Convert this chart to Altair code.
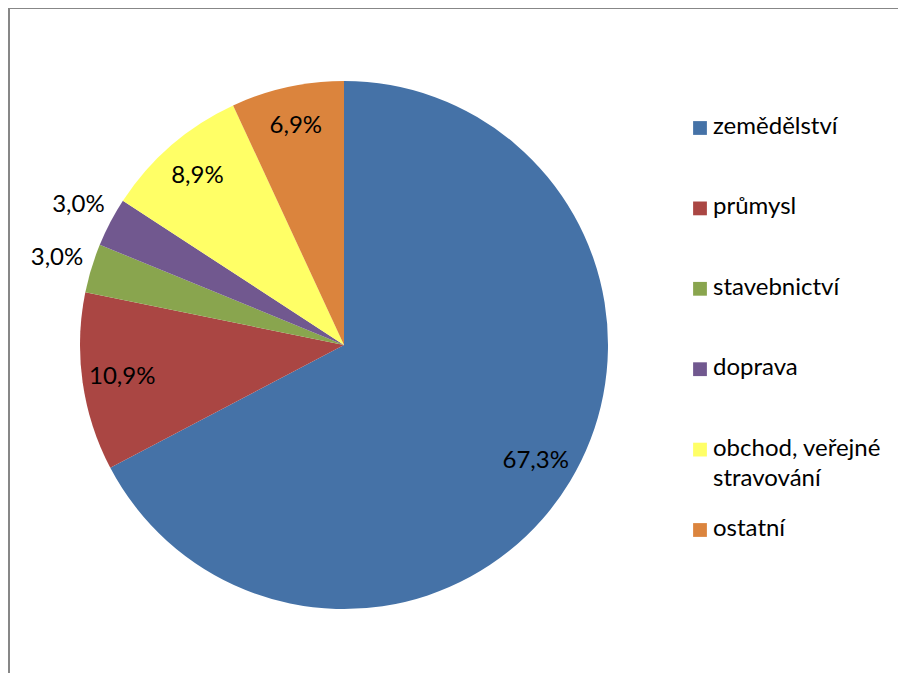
import altair as alt
import pandas as pd

categories = ["zemědělství", "průmysl", "stavebnictví", "doprava", "obchod, veřejné stravování", "ostatní"]
legend_lines = [["zemědělství"], ["průmysl"], ["stavebnictví"], ["doprava"], ["obchod, veřejné", "stravování"], ["ostatní"]]
shares = [67.3, 10.9, 3.0, 3.0, 8.9, 6.9]
colors = ["#4572A7", "#AA4643", "#89A54E", "#71588F", "#FFFF66", "#DB843D"]

df = pd.DataFrame({
    "kategorie": categories,
    "podil": shares,
    "poradi": list(range(len(categories))),
    "legenda": legend_lines,
})

W, H = 890, 665
CX, CY = 336, 337
FONT = "Lato"
FS = 24

theta_scale = alt.Scale(domain=[0, 100])
color_scale = alt.Scale(domain=categories, range=colors)

pie = alt.Chart(df).mark_arc(outerRadius=264).encode(
    theta=alt.Theta("podil:Q", stack=True, scale=theta_scale),
    order=alt.Order("poradi:Q"),
    x=alt.value(CX), y=alt.value(CY),
    color=alt.Color("kategorie:N", scale=color_scale, sort=categories, legend=None),
)

label_txt = "replace(format(datum.podil, '.1f'), '.', ',') + '%'"

labels = alt.Chart(df).transform_window(
    kum="sum(podil)", sort=[alt.SortField("poradi")]
).transform_calculate(
    stred="datum.kum - datum.podil / 2", txt=label_txt
)

inside = labels.transform_filter("datum.podil >= 5").mark_text(
    radius=224, font=FONT, fontSize=FS, color="#000000"
).encode(
    theta=alt.Theta("stred:Q", scale=theta_scale),
    x=alt.value(CX), y=alt.value(CY), text="txt:N",
)

outside = labels.transform_filter("datum.podil < 5").mark_text(
    radius=300, font=FONT, fontSize=FS, color="#000000"
).encode(
    theta=alt.Theta("stred:Q", scale=theta_scale),
    x=alt.value(CX), y=alt.value(CY), text="txt:N",
)

# custom legend (uniform spacing, wrapped label)
leg_y = alt.Y("kategorie:N", sort=categories, axis=None,
              scale=alt.Scale(range=[120, 522], padding=0))

leg_sym = alt.Chart(df).mark_square(size=190, opacity=1).encode(
    x=alt.value(692), y=leg_y,
    color=alt.Color("kategorie:N", scale=color_scale, sort=categories, legend=None),
)

leg_txt = alt.Chart(df).mark_text(
    align="left", baseline="top", dy=-13, lineHeight=30,
    font=FONT, fontSize=FS, color="#000000"
).encode(
    x=alt.value(705), y=leg_y, text="legenda",
)

frame_left = alt.Chart(df).mark_rule(color="#878787", strokeWidth=2).encode(
    x=alt.value(1), y=alt.value(0), y2=alt.value(H)
)
frame_top = alt.Chart(df).mark_rule(color="#878787", strokeWidth=2).encode(
    x=alt.value(0), x2=alt.value(W), y=alt.value(0)
)

chart = alt.layer(frame_left, frame_top, pie, inside, outside, leg_sym, leg_txt).properties(
    width=W, height=H, autosize=alt.AutoSizeParams(type="none"), padding=0
).configure_view(stroke=None).configure(background="white")

chart.save("out.html", embed_options={"renderer": "svg", "actions": False})
